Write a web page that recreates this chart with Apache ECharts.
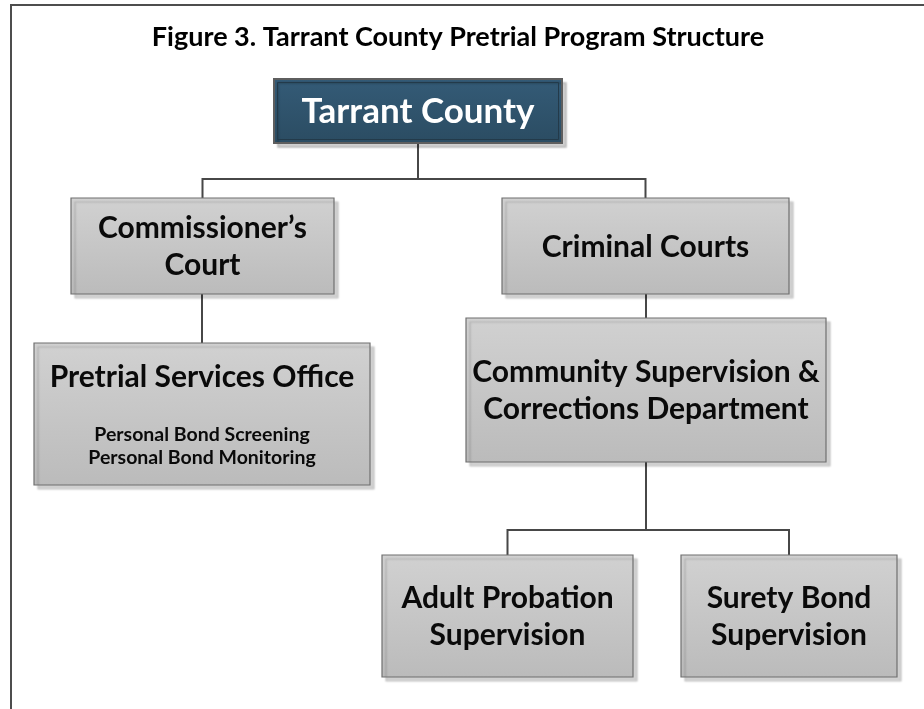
<!DOCTYPE html>
<html><head><meta charset="utf-8">
<script src="https://cdn.jsdelivr.net/npm/echarts@6/dist/echarts.min.js"></script>
<style>html,body{margin:0;padding:0;background:#fff}#c{width:924px;height:709px}</style>
</head><body><div id="c"></div>
<script>
// ---- content ----
const titleText = 'Figure 3. Tarrant County Pretrial Program Structure';
const nodeNames = [
  'Tarrant County',
  'Commissioner\u2019s\nCourt',
  'Criminal Courts',
  'Pretrial Services Office',
  'Community Supervision &\nCorrections Department',
  'Adult Probation\nSupervision',
  'Surety Bond\nSupervision'
];
const nodeParents = [-1, 0, 0, 1, 2, 4, 4];
const nodeDetails = ['', '', '', 'Personal Bond Screening\nPersonal Bond Monitoring', '', '', ''];

// ---- layout (frame pixels): box left, top, right, bottom; connector bus heights ----
const boxLayout = [
  [274, 79, 562, 143],
  [71, 198, 334, 294],
  [502, 198, 789, 294],
  [34, 343, 370, 485],
  [466, 318, 826, 462],
  [382, 555, 633, 677],
  [681, 555, 897, 677]
];
const busLayout = {0: 179, 4: 530};

const FONT = 'Lato';
const chart = echarts.init(document.getElementById('c'), null, {renderer: 'canvas'});

const boxData = nodeNames.map((n, i) => [boxLayout[i][0], boxLayout[i][1], boxLayout[i][2], boxLayout[i][3], i]);
const linkData = [];
nodeParents.forEach((p, i) => { if (p >= 0) linkData.push([p, i]); });

function grayFill() {
  return new echarts.graphic.LinearGradient(0, 0, 0, 1, [
    {offset: 0, color: '#d1d1d1'}, {offset: 1, color: '#bbbbbb'}
  ]);
}
function blueFill() {
  return new echarts.graphic.LinearGradient(0, 0, 0, 1, [
    {offset: 0, color: '#345b77'}, {offset: 1, color: '#2b4c62'}
  ]);
}

function renderBox(params, api) {
  const i = api.value(4);
  const p0 = api.coord([api.value(0), api.value(1)]);
  const p1 = api.coord([api.value(2), api.value(3)]);
  const x = p0[0], y = p0[1], w = p1[0] - p0[0], h = p1[1] - p0[1];
  const top = i === 0;
  const children = [];
  children.push({
    type: 'rect',
    shape: {x: x, y: y, width: w, height: h},
    style: {
      fill: top ? blueFill() : grayFill(),
      stroke: top ? '#5e5e5e' : '#6f6f6f', lineWidth: top ? 2 : 1.2,
      shadowBlur: 2, shadowOffsetX: 4, shadowOffsetY: 4, shadowColor: 'rgba(0,0,0,0.18)'
    }
  });
  if (top) {
    children.push({
      type: 'rect',
      shape: {x: x + 3.5, y: y + 3.5, width: w - 7, height: h - 7},
      style: {fill: null, stroke: '#233a4a', lineWidth: 1}
    });
  }
  const detail = nodeDetails[i];
  const cx = x + w / 2;
  if (detail) {
    children.push({
      type: 'text',
      style: {text: nodeNames[i], x: cx, y: y + h * 0.24, align: 'center', verticalAlign: 'middle',
        font: 'bold 30px ' + FONT, fill: '#0a0a0a'}
    });
    children.push({
      type: 'text',
      style: {text: detail, x: cx, y: y + h * 0.725, align: 'center', verticalAlign: 'middle',
        font: 'bold 19.5px ' + FONT, lineHeight: 23, fill: '#0a0a0a'}
    });
  } else {
    children.push({
      type: 'text',
      style: {text: nodeNames[i], x: cx, y: y + h / 2 + 1, align: 'center', verticalAlign: 'middle',
        font: 'bold ' + (top ? 35 : 30) + 'px ' + FONT, lineHeight: 37,
        fill: top ? '#ffffff' : '#0a0a0a'}
    });
  }
  return {type: 'group', children: children};
}

function renderLink(params, api) {
  const p = api.value(0), c = api.value(1);
  const pb = boxLayout[p], cb = boxLayout[c];
  const px = (pb[0] + pb[2]) / 2, cx = (cb[0] + cb[2]) / 2;
  let pts;
  if (busLayout[p] !== undefined) {
    const by = busLayout[p];
    pts = [[px, pb[3]], [px, by], [cx, by], [cx, cb[1]]];
  } else {
    pts = [[cx, pb[3]], [cx, cb[1]]];
  }
  return {
    type: 'polyline',
    shape: {points: pts.map(q => api.coord(q))},
    style: {fill: null, stroke: '#474747', lineWidth: 2}
  };
}

chart.setOption({
  animation: false,
  backgroundColor: '#ffffff',
  grid: {left: 0, right: 0, top: 0, bottom: 0},
  xAxis: {type: 'value', min: 0, max: 924, show: false},
  yAxis: {type: 'value', min: 0, max: 709, inverse: true, show: false},
  graphic: [
    {type: 'line', shape: {x1: 10, y1: 5, x2: 924, y2: 5}, style: {stroke: '#4d4d4d', lineWidth: 2}},
    {type: 'line', shape: {x1: 11, y1: 5, x2: 11, y2: 709}, style: {stroke: '#4d4d4d', lineWidth: 2}},
    {type: 'text', x: 458, y: 37, style: {text: titleText, align: 'center', verticalAlign: 'middle',
      font: 'bold 27px ' + FONT, fill: '#000'}}
  ],
  series: [
    {type: 'custom', coordinateSystem: 'cartesian2d', renderItem: renderLink, data: linkData,
      encode: {x: -1, y: -1}, silent: true, z: 1},
    {type: 'custom', coordinateSystem: 'cartesian2d', renderItem: renderBox, data: boxData,
      encode: {x: [0, 2], y: [1, 3]}, silent: true, z: 2}
  ]
});
</script></body></html>
